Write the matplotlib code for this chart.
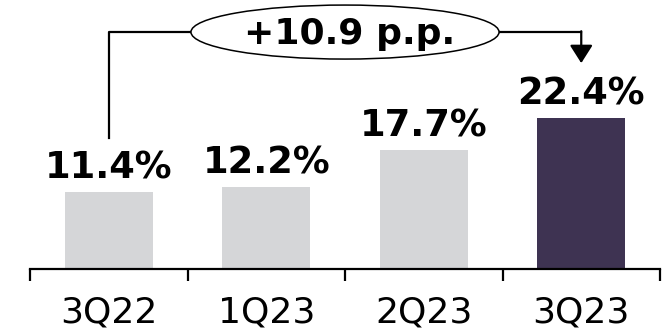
import matplotlib
matplotlib.use("Agg")
import matplotlib.pyplot as plt
from matplotlib.patches import Ellipse

quarters = ["3Q22", "1Q23", "2Q23", "3Q23"]
shares = [11.4, 12.2, 17.7, 22.4]
bar_colors = ["#d5d6d8", "#d5d6d8", "#d5d6d8", "#3e3352"]
change_label = "+10.9 p.p."

fig = plt.figure(figsize=(6.69, 3.36), dpi=100)
ax = fig.add_axes([30 / 669, 67 / 336, 630 / 669, 269 / 336])

x = list(range(len(quarters)))
bars = ax.bar(x, shares, width=0.556, color=bar_colors, zorder=2)

for xi, v in zip(x, shares):
    ax.annotate(f"{v:.1f}%", xy=(xi, v), xytext=(0, 9.5), textcoords="offset points",
                ha="center", va="baseline", fontsize=26.5, fontweight="bold")

ax.set_xlim(-0.5, len(quarters) - 0.5)
ax.set_ylim(0, 39.85)

# bracket from the first bar to the last one
level = 35.1
first, last = x[0], x[-1]
mid = (first + last) / 2
ell_w, ell_h = 1.956, 8.0
ax.plot([first, first, mid - ell_w / 2], [shares[0] + 8, level, level],
        color="black", lw=1.6, clip_on=False, zorder=3)
ax.plot([mid + ell_w / 2, last], [level, level], color="black", lw=1.6,
        clip_on=False, zorder=3)
ax.annotate("", xy=(last, shares[-1] + 8.1), xytext=(last, level + 0.12),
            arrowprops=dict(arrowstyle="-|>,head_length=0.55,head_width=0.35",
                            color="black", lw=1.6, shrinkA=0, shrinkB=0,
                            mutation_scale=20), annotation_clip=False)
ax.add_patch(Ellipse((mid, level), ell_w, ell_h, facecolor="white",
                     edgecolor="black", lw=1.1, clip_on=False, zorder=4))
ax.text(mid + 0.03, level - 0.3, change_label, ha="center", va="center",
        fontsize=26, fontweight="bold", zorder=5)

for s in ["left", "right", "top"]:
    ax.spines[s].set_visible(False)
ax.spines["bottom"].set_linewidth(1.6)
ax.set_yticks([])
ax.set_xticks([i - 0.5 for i in range(len(quarters) + 1)])
ax.set_xticklabels([])
ax.tick_params(axis="x", which="major", length=8.6, width=1.6, direction="out")
ax.set_xticks(x, minor=True)
ax.set_xticklabels(quarters, minor=True, fontsize=26)
ax.tick_params(axis="x", which="minor", length=0, pad=19)

fig.savefig("out.png", dpi=100)
